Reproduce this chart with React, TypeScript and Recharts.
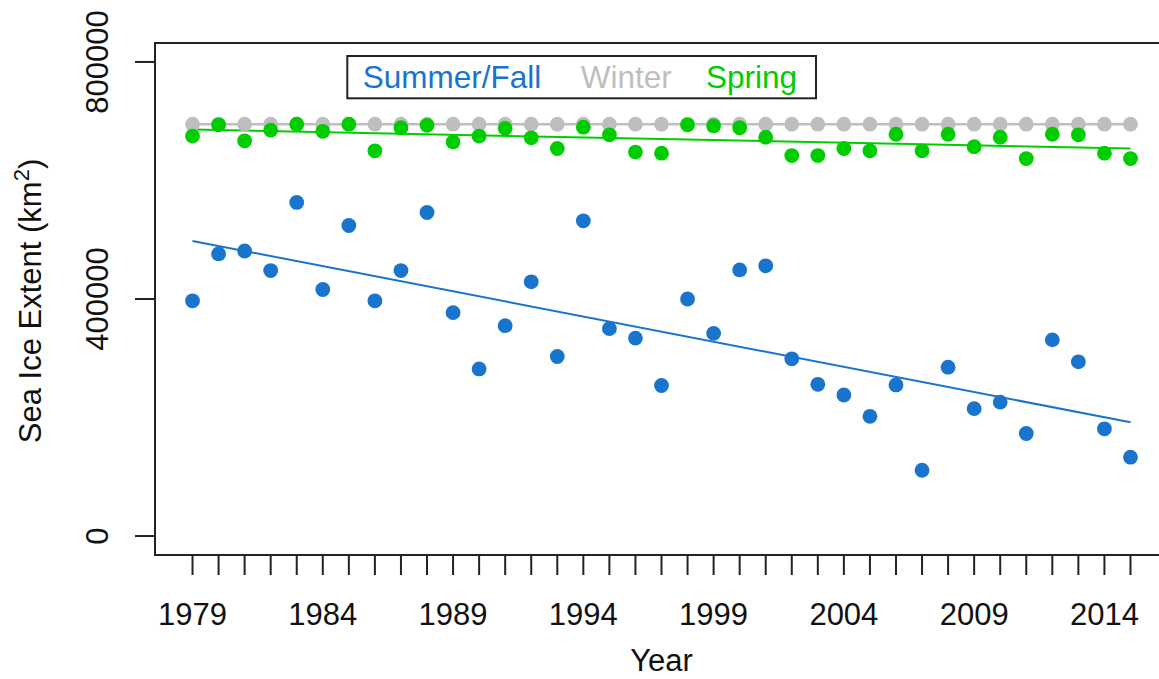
import { ComposedChart, XAxis, YAxis, Scatter, Line, ReferenceArea, Legend, Label } from "recharts";

const FONT = '"Liberation Sans", Arial, sans-serif';
const BLUE = "#1874CD";
const GRAY = "#BEBEBE";
const GREEN = "#00CD00";
const INK = "#222";

const years = [
  1979, 1980, 1981, 1982, 1983, 1984, 1985, 1986, 1987, 1988, 1989, 1990, 1991,
  1992, 1993, 1994, 1995, 1996, 1997, 1998, 1999, 2000, 2001, 2002, 2003, 2004,
  2005, 2006, 2007, 2008, 2009, 2010, 2011, 2012, 2013, 2014, 2015,
];
const labeledYears = [1979, 1984, 1989, 1994, 1999, 2004, 2009, 2014];
const yTicks = [0, 400000, 800000];

const summerFall = [
  397000, 476000, 481000, 448000, 563000, 416000, 524000, 397000, 448000, 546000,
  377000, 282000, 355000, 429000, 303000, 532000, 350000, 334000, 254000, 400000,
  342000, 449000, 456000, 299000, 256000, 238000, 202000, 255000, 111000, 285000,
  215000, 226000, 173000, 331000, 294000, 181000, 133000,
];
const winter = [
  695000, 695000, 695000, 695000, 695000, 695000, 695000, 695000, 695000, 695000,
  695000, 695000, 695000, 695000, 695000, 695000, 695000, 695000, 695000, 695000,
  695000, 695000, 695000, 695000, 695000, 695000, 695000, 695000, 695000, 695000,
  695000, 695000, 695000, 695000, 695000, 695000, 695000,
];
const spring = [
  675000, 694000, 667000, 685000, 695000, 683000, 695000, 650000, 689000, 693000,
  665000, 675000, 688000, 672000, 654000, 690000, 677000, 648000, 646000, 694000,
  692000, 689000, 673000, 642000, 642000, 654000, 650000, 678000, 650000, 678000,
  657000, 673000, 637000, 678000, 677000, 646000, 637000,
];

// fitted trend lines, end points
const summerTrend = [
  { year: 1979, value: 498000 },
  { year: 2015, value: 192000 },
];
const springTrend = [
  { year: 1979, value: 686000 },
  { year: 2015, value: 654000 },
];

const table = years.map((year, i) => ({
  year,
  summer: summerFall[i],
  winter: winter[i],
  spring: spring[i],
}));

const dot = (color: string) => (props: any) =>
  <circle cx={props.cx} cy={props.cy} r={7.4} fill={color} />;

function YTick(props: any) {
  const { x, y, payload } = props;
  return (
    <text x={x} y={y} transform={`rotate(-90, ${x}, ${y})`} textAnchor="middle"
      fill="#111" fontSize={31} fontFamily={FONT}>
      {payload.value}
    </text>
  );
}

function YTitle() {
  return (
    <text x={41} y={301} transform="rotate(-90, 41, 301)" textAnchor="middle"
      fill="#111" fontSize={31} fontFamily={FONT}>
      Sea Ice Extent (km<tspan dy={-12} fontSize={22}>2</tspan><tspan dy={12}>)</tspan>
    </text>
  );
}

function XTitle(props: any) {
  const vb = props.viewBox || { x: 155, y: 555, width: 1013 };
  return (
    <text x={vb.x + vb.width / 2} y={671} textAnchor="middle" fill="#111"
      fontSize={31} fontFamily={FONT}>
      Year
    </text>
  );
}

function LegendBox() {
  return (
    <svg width={472} height={46} style={{ display: "block" }}>
      <rect x={1.3} y={1} width={468.7} height={42.3} fill="#fff" stroke={INK} strokeWidth={2} />
      <text x={16.7} y={33.3} fill={BLUE} fontSize={31.5} fontFamily={FONT}>Summer/Fall</text>
      <text x={234.7} y={33.3} fill={GRAY} fontSize={31.5} fontFamily={FONT}>Winter</text>
      <text x={360} y={33.3} fill={GREEN} fontSize={31.5} fontFamily={FONT}>Spring</text>
    </svg>
  );
}

export default function App() {
  return (
    <div style={{ position: "fixed", left: 0, top: 0, width: 1159, height: 679, overflow: "hidden", background: "#fff" }}>
      <ComposedChart width={1200} height={679} data={table}
        margin={{ top: 43, right: 32, bottom: 0, left: 0 }}>
        <XAxis type="number" dataKey="year" domain={[1977.56, 2016.44]} ticks={years}
          interval={0} allowDataOverflow height={124} tickSize={20} tickMargin={28}
          axisLine={false} tickLine={{ stroke: INK, strokeWidth: 2 }}
          tick={{ fill: "#111", fontSize: 31, fontFamily: FONT }}
          tickFormatter={(v: number) => (labeledYears.includes(v) ? String(v) : "")}>
          <Label content={XTitle} />
        </XAxis>
        <YAxis type="number" domain={[-32000, 832000]} ticks={yTicks} interval={0}
          allowDataOverflow width={155} tickSize={20} tickMargin={27}
          axisLine={false} tickLine={{ stroke: INK, strokeWidth: 2 }} tick={<YTick />}>
          <Label content={YTitle} />
        </YAxis>
        <ReferenceArea x1={1977.56} x2={2016.44} y1={-32000} y2={832000}
          fill="none" stroke={INK} strokeWidth={2} ifOverflow="visible" />
        <Scatter dataKey="winter" shape={dot(GRAY)} line={{ stroke: GRAY, strokeWidth: 2.5 }}
          isAnimationActive={false} legendType="none" />
        <Scatter dataKey="spring" shape={dot(GREEN)} isAnimationActive={false} legendType="none" />
        <Scatter dataKey="summer" shape={dot(BLUE)} isAnimationActive={false} legendType="none" />
        <Line data={springTrend} dataKey="value" stroke={GREEN} strokeWidth={2}
          dot={false} activeDot={false} isAnimationActive={false} legendType="none" />
        <Line data={summerTrend} dataKey="value" stroke={BLUE} strokeWidth={2}
          dot={false} activeDot={false} isAnimationActive={false} legendType="none" />
        <Legend layout="horizontal" verticalAlign="middle" align="center"
          content={() => <LegendBox />}
          wrapperStyle={{ position: "absolute", left: 346, top: 55, width: 472, height: 46 }} />
      </ComposedChart>
    </div>
  );
}
